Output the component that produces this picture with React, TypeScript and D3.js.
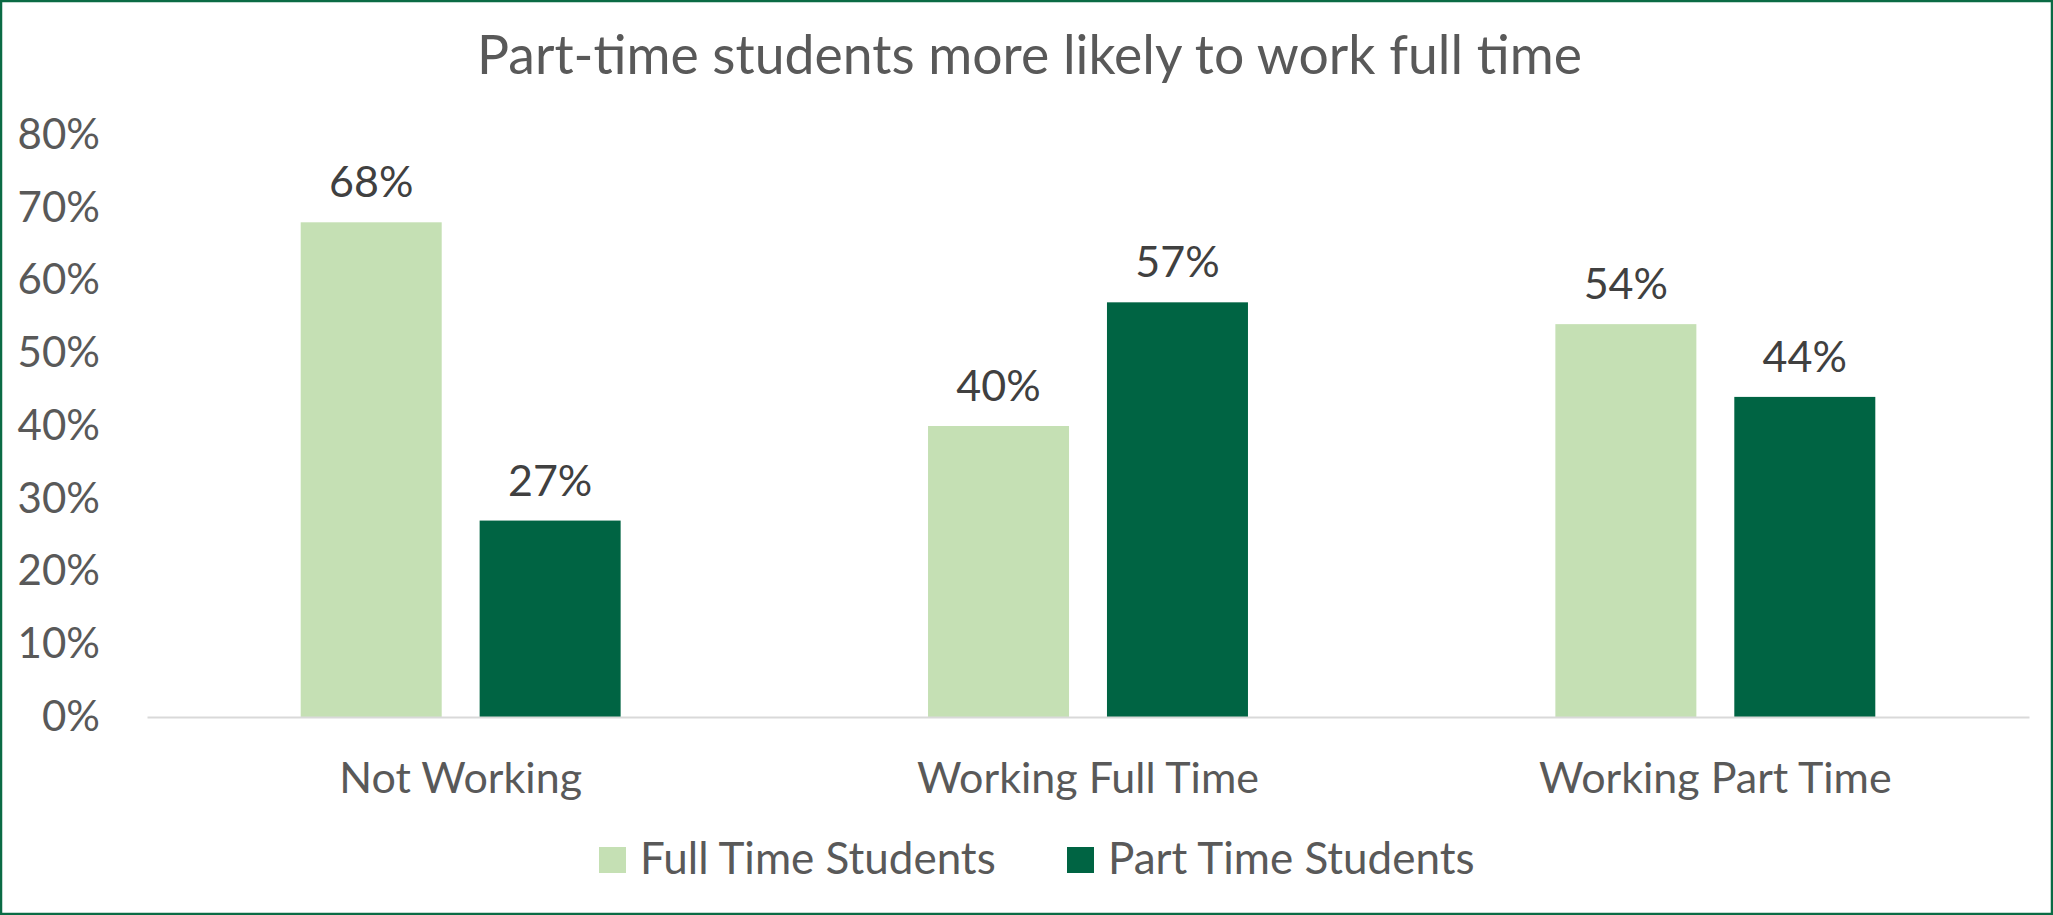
import React, { useEffect, useRef } from 'react';
import * as d3 from 'd3';

const categories = ['Not Working', 'Working Full Time', 'Working Part Time'];
const seriesNames = ['Full Time Students', 'Part Time Students'];
const fullTimeValues = [68, 40, 54];
const partTimeValues = [27, 57, 44];
const yTicks = [0, 10, 20, 30, 40, 50, 60, 70, 80];
const title = 'Part-time students more likely to work full time';

const colors = ['#C5E0B4', '#006443'];
const font = 'Lato, "Open Sans", sans-serif';

const App = () => {
  const container = useRef(null);

  useEffect(() => {
    createChart();
  }, []);

  const createChart = () => {
    const width = 2053;
    const height = 915;
    const margins = { l: 147, r: 24, t: 135, b: 198 };
    const plotwidth = width - margins.l - margins.r;
    const plotheight = height - margins.t - margins.b;

    const rows = categories.map((c, i) => ({
      category: c,
      values: [fullTimeValues[i], partTimeValues[i]]
    }));

    const x0 = d3
      .scaleBand()
      .domain(categories)
      .range([0, plotwidth])
      .paddingInner(0.49)
      .paddingOuter(0.245);

    const x1 = d3
      .scaleBand()
      .domain(seriesNames)
      .range([0, x0.bandwidth()])
      .paddingInner(0.212);

    const yScale = d3
      .scaleLinear()
      .domain([0, 80])
      .range([plotheight, 0]);

    const svg = d3
      .select(container.current)
      .selectAll('svg')
      .data([0])
      .join('svg')
      .attr('width', width)
      .attr('height', height)
      .style('display', 'block')
      .style('font-family', font);

    svg.selectAll('*').remove();

    svg
      .append('rect')
      .attr('width', width)
      .attr('height', height)
      .attr('fill', '#ffffff');

    svg
      .append('rect')
      .attr('x', 1)
      .attr('y', 1)
      .attr('width', width - 2)
      .attr('height', height - 2)
      .attr('fill', 'none')
      .attr('stroke', '#0B6B45')
      .attr('stroke-width', 2.5);

    svg
      .append('text')
      .attr('x', width / 2 + 3)
      .attr('y', 74)
      .attr('text-anchor', 'middle')
      .attr('fill', '#595959')
      .style('font-size', '53.5px')
      .text(title);

    const plotg = svg
      .append('g')
      .attr('class', 'plotg')
      .attr('transform', `translate(${margins.l}, ${margins.t})`);

    // y axis labels only
    const yAxis = d3
      .axisLeft(yScale)
      .tickValues(yTicks)
      .tickSize(0)
      .tickPadding(47)
      .tickFormat(d => `${d}%`);

    const yaxisg = plotg.append('g').attr('class', 'y-axis-g').call(yAxis);
    yaxisg.select('.domain').remove();
    yaxisg
      .selectAll('text')
      .attr('fill', '#595959')
      .style('font-family', font)
      .style('font-size', '42px');

    // bars
    const groups = plotg
      .selectAll('.group')
      .data(rows)
      .join('g')
      .attr('class', 'group')
      .attr('transform', d => `translate(${x0(d.category)}, 0)`);

    groups
      .selectAll('rect')
      .data(d => d.values.map((v, i) => ({ key: seriesNames[i], v, i })))
      .join('rect')
      .attr('x', d => x1(d.key))
      .attr('y', d => yScale(d.v))
      .attr('width', x1.bandwidth())
      .attr('height', d => plotheight - yScale(d.v))
      .attr('fill', d => colors[d.i]);

    groups
      .selectAll('.label')
      .data(d => d.values.map((v, i) => ({ key: seriesNames[i], v, i })))
      .join('text')
      .attr('class', 'label')
      .attr('x', d => x1(d.key) + x1.bandwidth() / 2)
      .attr('y', d => yScale(d.v) - 25)
      .attr('text-anchor', 'middle')
      .attr('fill', '#404040')
      .style('font-size', '43px')
      .text(d => `${d.v}%`);

    // x axis
    const xAxis = d3.axisBottom(x0).tickSize(0).tickSizeOuter(0);
    const xaxisg = plotg
      .append('g')
      .attr('class', 'x-axis-g')
      .attr('transform', `translate(0, ${plotheight})`)
      .call(xAxis);
    xaxisg
      .select('.domain')
      .attr('stroke', '#D9D9D9')
      .attr('stroke-width', 2);
    xaxisg
      .selectAll('text')
      .attr('y', 76)
      .attr('dy', 0)
      .attr('fill', '#595959')
      .style('font-family', font)
      .style('font-size', '43px');

    // legend
    const legendItems = [
      { name: seriesNames[0], color: colors[0], x: 599 },
      { name: seriesNames[1], color: colors[1], x: 1067 }
    ];
    const legend = svg.append('g').attr('class', 'legend');
    const li = legend
      .selectAll('g')
      .data(legendItems)
      .join('g')
      .attr('transform', d => `translate(${d.x}, 847)`);
    li.append('rect')
      .attr('width', 27)
      .attr('height', 26)
      .attr('fill', d => d.color);
    li.append('text')
      .attr('x', 41)
      .attr('y', 27)
      .attr('fill', '#595959')
      .style('font-size', '44px')
      .text(d => d.name);
  };

  return (
    <div className="chart-container" ref={container}>
      <style>{`body { margin: 0; }`}</style>
    </div>
  );
};

export default App;
